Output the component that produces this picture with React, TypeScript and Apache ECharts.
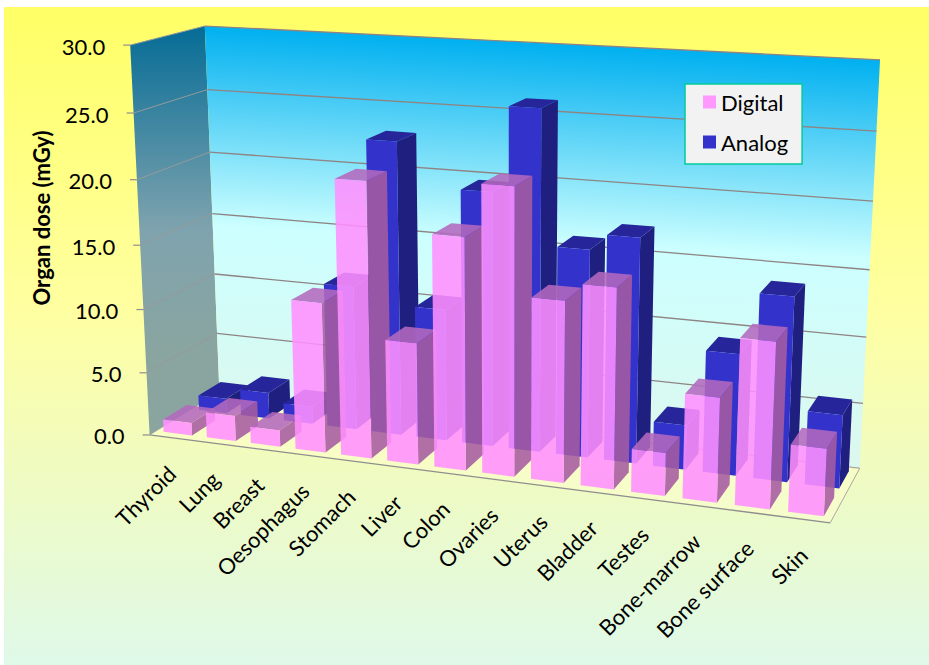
import React, { useEffect, useRef } from "react";
import * as echarts from "echarts";

const categories = ["Thyroid", "Lung", "Breast", "Oesophagus", "Stomach", "Liver", "Colon", "Ovaries", "Uterus", "Bladder", "Testes", "Bone-marrow", "Bone surface", "Skin"];
const digitalDose = [1.0, 2.0, 1.3, 11.6, 21.0, 9.3, 17.5, 21.45, 13.55, 14.85, 3.2, 7.7, 12.1, 4.9];
const analogDose = [1.2, 2.1, 1.4, 11.4, 22.85, 10.3, 19.6, 26.0, 15.9, 17.1, 3.4, 9.2, 13.8, 5.5];
const doseTicks = [0, 5, 10, 15, 20, 25, 30];

const FONT = "Lato, 'Open Sans', sans-serif";
const W = 929;
const H = 665;
const GRID = { left: 100, top: 100, width: 700, height: 400 };

// Box corners as [x (0..1), dose (0..1), depth (0..1)] and where they land on the page.
const ANCHORS: [number, number, number, number, number][] = [
  [0, 0, 0, 150, 434],
  [0, 1, 0, 130, 45],
  [0, 0, 1, 219, 393],
  [0, 1, 1, 205, 26],
  [1, 0, 1, 860, 467],
  [1, 1, 1, 880, 60],
  [1, 0, 0, 830, 524],
];

function solveCamera(): number[] {
  const rows: number[][] = [];
  const rhs: number[] = [];
  for (const [X, Y, Z, u, v] of ANCHORS) {
    rows.push([X, Y, Z, 1, 0, 0, 0, 0, -u * X, -u * Y, -u * Z]);
    rhs.push(u);
    rows.push([0, 0, 0, 0, X, Y, Z, 1, -v * X, -v * Y, -v * Z]);
    rhs.push(v);
  }
  const n = 11;
  const m: number[][] = [];
  for (let i = 0; i < n; i++) {
    const row = new Array(n + 1).fill(0);
    for (let k = 0; k < rows.length; k++) {
      for (let j = 0; j < n; j++) row[j] += rows[k][i] * rows[k][j];
      row[n] += rows[k][i] * rhs[k];
    }
    m.push(row);
  }
  for (let c = 0; c < n; c++) {
    let p = c;
    for (let r = c + 1; r < n; r++) if (Math.abs(m[r][c]) > Math.abs(m[p][c])) p = r;
    [m[c], m[p]] = [m[p], m[c]];
    for (let r = 0; r < n; r++) {
      if (r === c) continue;
      const f = m[r][c] / m[c][c];
      for (let j = c; j <= n; j++) m[r][j] -= f * m[c][j];
    }
  }
  return m.map((row, i) => row[n] / row[i]);
}

const P = solveCamera();
function project(x: number, y: number, z: number): [number, number] {
  const w = P[8] * x + P[9] * y + P[10] * z + 1;
  return [(P[0] * x + P[1] * y + P[2] * z + P[3]) / w, (P[4] * x + P[5] * y + P[6] * z + P[7]) / w];
}

// Converts the pixel position from the hidden axes into box fractions.
const toBoxX = (px: number) => (px - GRID.left) / GRID.width;
const toBoxY = (py: number) => (GRID.top + GRID.height - py) / GRID.height;

const BAR_SHARE = 0.66;
const ROW_DIGITAL: [number, number] = [0.09, 0.42];
const ROW_ANALOG: [number, number] = [0.59, 0.92];

function barFaces(api: any, row: [number, number], colors: { front: string; side: string; top: string }) {
  const i = api.value(0);
  const [cx, cy] = api.coord([i, api.value(1)]);
  const bandX = api.size([1, 0])[0] / GRID.width;
  const x = toBoxX(cx);
  const y = toBoxY(cy);
  const xl = x - (bandX * BAR_SHARE) / 2;
  const xr = x + (bandX * BAR_SHARE) / 2;
  const [zf, zb] = row;
  const poly = (pts: [number, number, number][], fill: string) => ({
    type: "polygon",
    shape: { points: pts.map((p) => project(p[0], p[1], p[2])) },
    style: { fill, stroke: "none" },
  });
  return {
    type: "group",
    children: [
      poly([[xr, 0, zf], [xr, 0, zb], [xr, y, zb], [xr, y, zf]], colors.side),
      poly([[xl, y, zf], [xr, y, zf], [xr, y, zb], [xl, y, zb]], colors.top),
      poly([[xl, 0, zf], [xr, 0, zf], [xr, y, zf], [xl, y, zf]], colors.front),
    ],
  };
}

const buildOption = () => {
  const linear = (x0: number, y0: number, x1: number, y1: number, stops: [number, string][]) =>
    new echarts.graphic.LinearGradient(x0, y0, x1, y1, stops.map(([offset, color]) => ({ offset, color })), true);

  const base = { type: "custom", coordinateSystem: "cartesian2d", silent: true, clip: false };

  return {
    animation: false,
    graphic: [
      {
        type: "rect",
        z: -10,
        shape: { x: 4, y: 7, width: W - 4, height: H - 7 },
        style: {
          fill: linear(0, 7, 0, H, [
            [0, "#FFFF66"],
            [0.45, "#FFFFA0"],
            [0.7, "#F0FBC0"],
            [1, "#DFF9E9"],
          ]),
        },
      },
      {
        type: "text",
        x: 41,
        y: 218,
        rotation: Math.PI / 2,
        style: {
          text: "Organ dose (mGy)",
          font: `bold 22px ${FONT}`,
          fill: "#000",
          align: "center",
          verticalAlign: "middle",
        },
      },
    ],
    grid: { ...GRID },
    xAxis: { type: "category", data: categories, show: false },
    yAxis: { type: "value", min: 0, max: 30, interval: 5, show: false },
    legend: {
      data: ["Digital", "Analog"],
      orient: "vertical",
      left: 685,
      top: 84,
      icon: "rect",
      itemWidth: 13,
      itemHeight: 13,
      itemGap: 18,
      padding: [7, 14, 11, 18],
      backgroundColor: "#F2F2F2",
      borderColor: "#00CC99",
      borderWidth: 1.5,
      borderRadius: 0,
      selectedMode: false,
      textStyle: { fontFamily: FONT, fontSize: 22, color: "#000" },
    },
    series: [
      {
        ...base,
        name: "walls",
        data: [[0, 0]],
        encode: { x: 0, y: 1 },
        renderItem: () => ({
          type: "group",
          children: [
            {
              type: "polygon",
              shape: { points: [project(0, 0, 0), project(0, 1, 0), project(0, 1, 1), project(0, 0, 1)] },
              style: {
                fill: linear(0, 26, 0, 434, [
                  [0, "#056C96"],
                  [0.5, "#7FA3AE"],
                  [0.8, "#8AA5A0"],
                  [1, "#8AA5A0"],
                ]),
              },
            },
            {
              type: "polygon",
              shape: { points: [project(0, 0, 1), project(0, 1, 1), project(1, 1, 1), project(1, 0, 1)] },
              style: {
                fill: linear(540, 43, 520, 440, [
                  [0, "#00B0F0"],
                  [0.5, "#CCFFFF"],
                  [1, "#DCF8EE"],
                ]),
              },
            },
          ],
        }),
      },
      {
        ...base,
        name: "gridlines",
        data: doseTicks.map((t) => [0, t]),
        encode: { x: 0, y: 1 },
        renderItem: (_: any, api: any) => {
          const y = toBoxY(api.coord([0, api.value(1)])[1]);
          const a = project(0, y, 0);
          const b = project(0, y, 1);
          const c = project(1, y, 1);
          return {
            type: "group",
            children: [
              { type: "line", shape: { x1: a[0] - 7, y1: a[1], x2: a[0], y2: a[1] }, style: { stroke: "#8E8E8E", lineWidth: 1.2 } },
              { type: "line", shape: { x1: a[0], y1: a[1], x2: b[0], y2: b[1] }, style: { stroke: "#949A9A", lineWidth: 1 } },
              { type: "line", shape: { x1: b[0], y1: b[1], x2: c[0], y2: c[1] }, style: { stroke: "#8E8484", lineWidth: 1.3 } },
            ],
          };
        },
      },
      {
        ...base,
        name: "floor",
        data: [[0, 0]],
        encode: { x: 0, y: 1 },
        renderItem: () => {
          const a = project(0, 0, 0);
          const b = project(1, 0, 0);
          const c = project(1, 0, 1);
          const d = project(0, 0, 1);
          return {
            type: "group",
            children: [
              { type: "polygon", shape: { points: [a, b, c, d] }, style: { fill: "rgba(255,255,205,0.5)" } },
              { type: "line", shape: { x1: a[0], y1: a[1], x2: b[0], y2: b[1] }, style: { stroke: "#8E8E8E", lineWidth: 1.3 } },
              { type: "line", shape: { x1: b[0], y1: b[1], x2: c[0], y2: c[1] }, style: { stroke: "#A8A8A0", lineWidth: 1 } },
            ],
          };
        },
      },
      {
        ...base,
        name: "Analog",
        itemStyle: { color: "#3333CC" },
        data: analogDose.map((v, i) => [i, v]),
        encode: { x: 0, y: 1 },
        renderItem: (_: any, api: any) =>
          barFaces(api, ROW_ANALOG, { front: "#3333CC", side: "#1F1F80", top: "#26269A" }),
      },
      {
        ...base,
        name: "Digital",
        itemStyle: { color: "#FF99FF" },
        data: digitalDose.map((v, i) => [i, v]),
        encode: { x: 0, y: 1 },
        renderItem: (_: any, api: any) =>
          barFaces(api, ROW_DIGITAL, {
            front: "rgba(255,144,255,0.88)",
            side: "rgba(165,91,160,0.88)",
            top: "rgba(180,105,190,0.88)",
          }),
      },
      {
        ...base,
        name: "doseLabels",
        data: doseTicks.map((t) => [0, t]),
        encode: { x: 0, y: 1 },
        renderItem: (_: any, api: any) => {
          const v = api.value(1);
          const a = project(0, toBoxY(api.coord([0, v])[1]), 0);
          return {
            type: "text",
            x: a[0] - 25,
            y: a[1] + 1,
            style: { text: v.toFixed(1), font: `22px ${FONT}`, fill: "#000", align: "right", verticalAlign: "middle" },
          };
        },
      },
      {
        ...base,
        name: "categoryLabels",
        data: categories.map((_, i) => [i, 0]),
        encode: { x: 0, y: 1 },
        renderItem: (_: any, api: any) => {
          const i = api.value(0);
          const [cx] = api.coord([i, 0]);
          const a = project(toBoxX(cx), 0, 0);
          return {
            type: "text",
            x: a[0] + 0.5,
            y: a[1] + 32,
            rotation: Math.PI / 4,
            style: { text: categories[i], font: `22px ${FONT}`, fill: "#000", align: "right", verticalAlign: "middle" },
          };
        },
      },
    ],
  };
};

export default function App() {
  const ref = useRef<HTMLDivElement>(null);
  useEffect(() => {
    const chart = echarts.init(ref.current!, undefined, { renderer: "svg" });
    chart.setOption(buildOption() as any);
    return () => chart.dispose();
  }, []);
  return <div ref={ref} style={{ position: "absolute", left: 0, top: 0, width: W, height: H }} />;
}
